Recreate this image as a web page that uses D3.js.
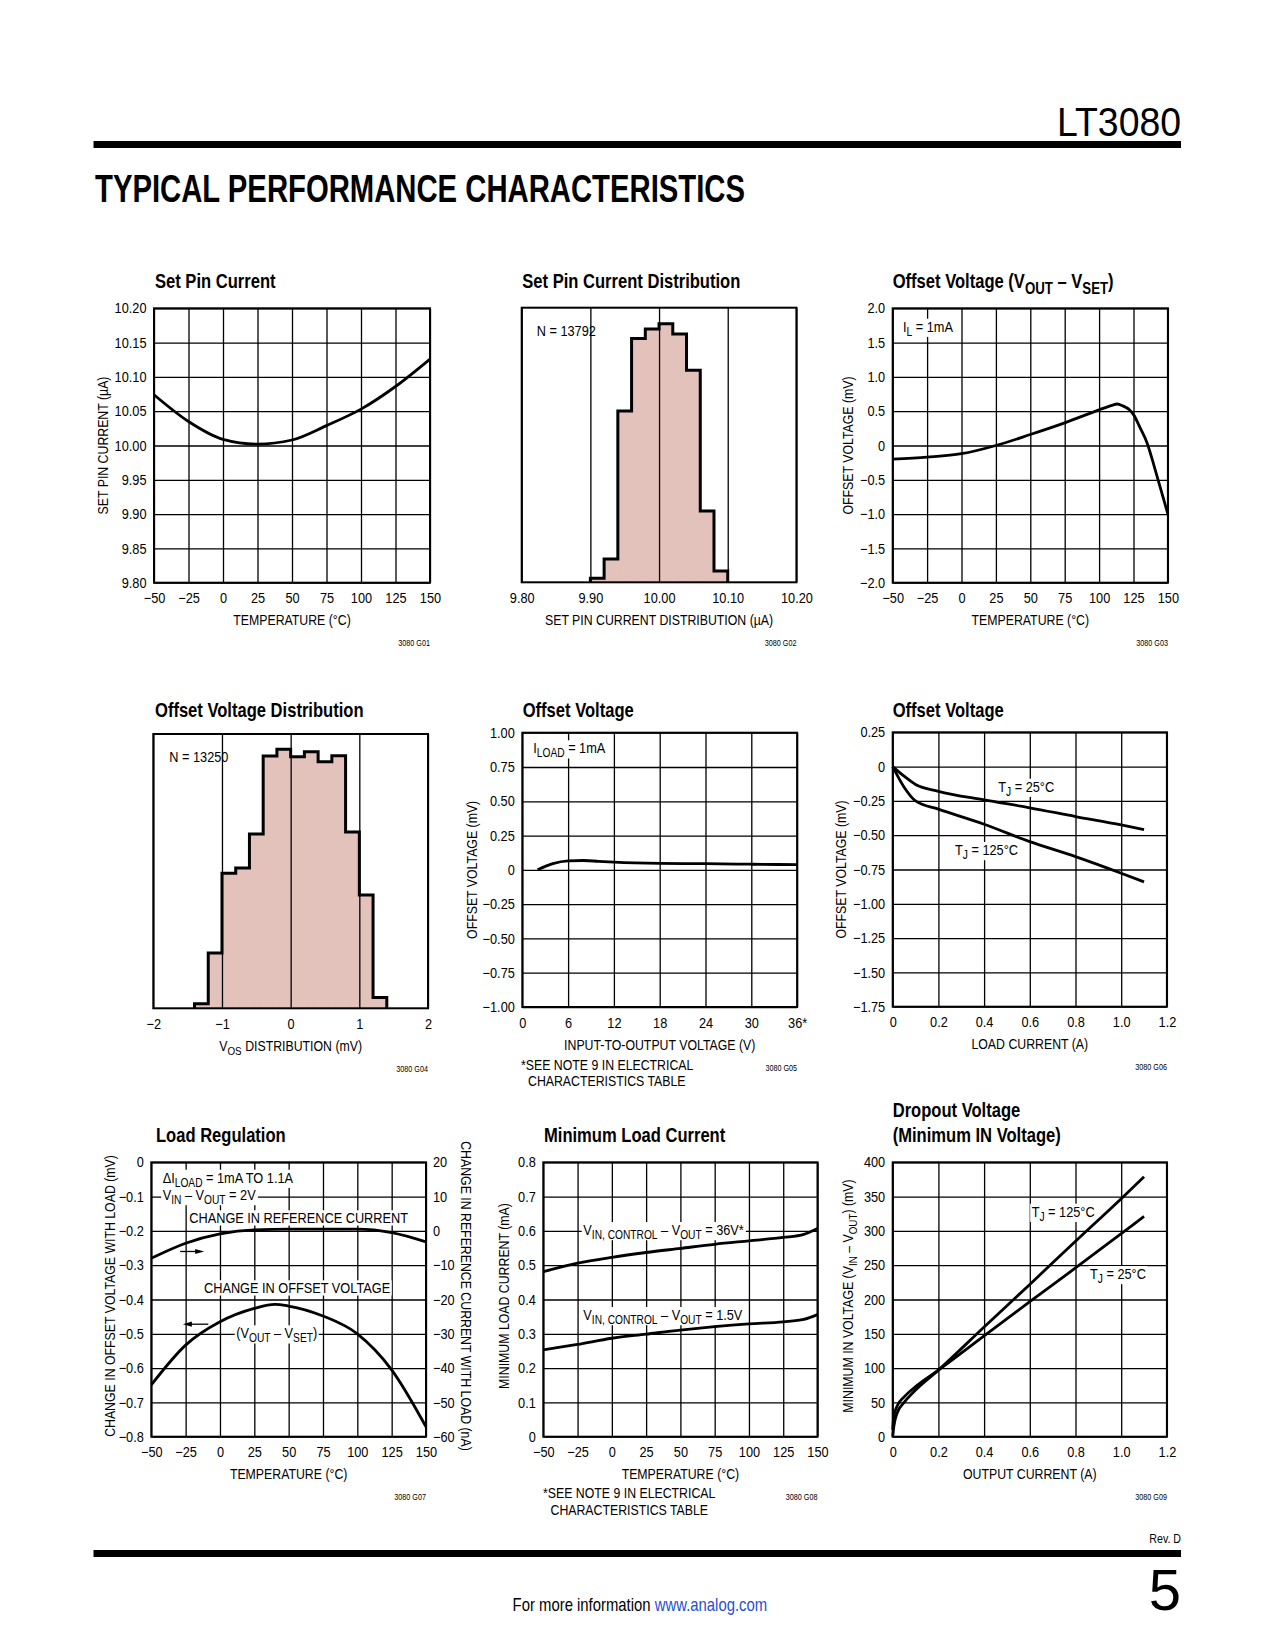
<!DOCTYPE html>
<html><head><meta charset="utf-8">
<script src="https://cdn.jsdelivr.net/npm/d3@7"></script>
<style>
html,body{margin:0;padding:0;background:#fff;}
svg{display:block;}
</style></head>
<body>
<svg id="page" width="1275" height="1650" viewBox="0 0 1275 1650"></svg>
<script>
// ================= DATA =================
const tempTicks  = [-50,-25,0,25,50,75,100,125,150];
const tempLabels = ["−50","−25","0","25","50","75","100","125","150"];

// 1. Set Pin Current
const spTemp    = [-50,-25,0,25,50,75,100,125,150];
const spCurrent = [10.074,10.035,10.009,10.002,10.008,10.029,10.053,10.086,10.126];
const spYTicks  = [9.80,9.85,9.90,9.95,10.00,10.05,10.10,10.15,10.20];
const spYLabels = ["9.80","9.85","9.90","9.95","10.00","10.05","10.10","10.15","10.20"];

// 2. Set Pin Current Distribution
const spdBinStart = [9.90,9.92,9.94,9.96,9.98,10.00,10.02,10.04,10.06,10.08];
const spdBinWidth = 0.02;
const spdCounts   = [37,215,1578,2247,2333,2382,2287,1953,657,103];
const spdXTicks   = [9.80,9.90,10.00,10.10,10.20];
const spdXLabels  = ["9.80","9.90","10.00","10.10","10.20"];

// 3. Offset Voltage (VOUT - VSET) vs temperature
const ovtTemp = [-50,-25,0,25,50,75,100,110,113,117,122,125,130,135,140,145,150];
const ovtVal  = [-0.2,-0.17,-0.12,0,0.16,0.33,0.52,0.59,0.605,0.58,0.52,0.45,0.25,0.03,-0.3,-0.65,-1.0];
const ovtYTicks  = [-2,-1.5,-1,-0.5,0,0.5,1,1.5,2];
const ovtYLabels = ["−2.0","−1.5","−1.0","−0.5","0","0.5","1.0","1.5","2.0"];

// 4. Offset Voltage Distribution
const ovdBinStart = [-1.4,-1.2,-1.0,-0.8,-0.6,-0.4,-0.2,0,0.2,0.4,0.6,0.8,1.0,1.2];
const ovdBinWidth = 0.2;
const ovdCounts   = [26,315,768,798,992,1436,1474,1432,1460,1403,1437,1003,645,61];
const ovdXTicks   = [-2,-1,0,1,2];
const ovdXLabels  = ["−2","−1","0","1","2"];

// 5. Offset Voltage vs input-to-output voltage
const oviVolt = [2,4,6,8,10,12,18,24,30,36];
const oviVal  = [0,0.045,0.065,0.068,0.062,0.056,0.047,0.045,0.041,0.038];
const oviXTicks  = [0,6,12,18,24,30,36];
const oviXLabels = ["0","6","12","18","24","30","36*"];
const oviYTicks  = [-1,-0.75,-0.5,-0.25,0,0.25,0.5,0.75,1];
const oviYLabels = ["−1.00","−0.75","−0.50","−0.25","0","0.25","0.50","0.75","1.00"];

// 6. Offset Voltage vs load current
const ovlLoad = [0,0.05,0.1,0.2,0.4,0.6,0.8,1.0,1.1];
const ovl25   = [0,-0.07,-0.13,-0.18,-0.243,-0.30,-0.364,-0.425,-0.46];
const ovl125  = [0,-0.15,-0.25,-0.31,-0.42,-0.547,-0.656,-0.777,-0.84];
const curXTicks  = [0,0.2,0.4,0.6,0.8,1.0,1.2];
const curXLabels = ["0","0.2","0.4","0.6","0.8","1.0","1.2"];
const ovlYTicks  = [-1.75,-1.5,-1.25,-1,-0.75,-0.5,-0.25,0,0.25];
const ovlYLabels = ["−1.75","−1.50","−1.25","−1.00","−0.75","−0.50","−0.25","0","0.25"];

// 7. Load Regulation
const lrTemp       = [-50,-25,0,25,40,50,75,100,125,150];
const lrOffset     = [-0.649,-0.533,-0.465,-0.426,-0.414,-0.419,-0.448,-0.50,-0.605,-0.771];
const lrRefTemp    = [-50,-25,0,25,50,75,100,125,150];
const lrRefCurrent = [-8.0,-3.6,-0.9,0.3,0.5,0.5,0.5,-0.5,-3.2];
const lrYTicks  = [-0.8,-0.7,-0.6,-0.5,-0.4,-0.3,-0.2,-0.1,0];
const lrYLabels = ["−0.8","−0.7","−0.6","−0.5","−0.4","−0.3","−0.2","−0.1","0"];
const lrRTicks  = [-60,-50,-40,-30,-20,-10,0,10,20];
const lrRLabels = ["−60","−50","−40","−30","−20","−10","0","10","20"];

// 8. Minimum Load Current
const mlTemp = [-50,-25,0,25,50,75,100,125,140,150];
const ml36   = [0.481,0.506,0.523,0.537,0.549,0.561,0.571,0.581,0.59,0.607];
const ml15   = [0.253,0.269,0.287,0.299,0.311,0.321,0.329,0.335,0.342,0.356];
const mlYTicks  = [0,0.1,0.2,0.3,0.4,0.5,0.6,0.7,0.8];
const mlYLabels = ["0","0.1","0.2","0.3","0.4","0.5","0.6","0.7","0.8"];

// 9. Dropout Voltage
const doCurrent = [0,0.005,0.02,0.05,0.1,0.2,0.4,0.6,0.8,1.0,1.1];
const do25      = [10,30,45,58,73,97,147,197,246,296,321];
const do125     = [0,15,35,50,68,97,160,222,285,347,379];
const doYTicks  = [0,50,100,150,200,250,300,350,400];
const doYLabels = ["0","50","100","150","200","250","300","350","400"];

// ================= DRAWING =================
const FONT = '"Liberation Sans", Arial, Helvetica, sans-serif';
const S = 0.85;    // horizontal condensing of titles / notes
const TS = 0.88;   // horizontal condensing of tick labels
const svg = d3.select('#page');
svg.append('rect').attr('width',1275).attr('height',1650).attr('fill','#fff');

function rich(t, str, size) {
  const off = size * 0.27;
  const parts = str.split(/(_\{[^}]*\})/);
  let shifted = false;
  parts.forEach(p => {
    if (!p) return;
    const m = p.match(/^_\{([^}]*)\}$/);
    if (m) {
      t.append('tspan').attr('dy', shifted ? 0 : off).attr('font-size', (size*0.8)+'px').text(m[1]);
      shifted = true;
    } else {
      const s = t.append('tspan').text(p);
      if (shifted) { s.attr('dy', -off); shifted = false; }
    }
  });
}

function txt(g, x, y, str, o = {}) {
  const size = o.size || 14.5;
  const sx = o.sx || S;
  const gg = g.append('g').attr('transform',
    `translate(${x},${y})` + (o.rot ? ` rotate(${o.rot})` : '') + ` scale(${sx},1)`);
  const t = gg.append('text')
    .attr('x', 0).attr('y', 0)
    .attr('font-family', FONT)
    .attr('font-size', size + 'px')
    .attr('font-weight', o.bold ? 'bold' : 'normal')
    .attr('text-anchor', o.anchor || 'start')
    .attr('fill', o.fill || '#000');
  rich(t, str, size);
  if (o.bg) {
    const b = t.node().getBBox();
    const p = 1.8;
    gg.insert('rect', () => t.node())
      .attr('x', b.x - p).attr('y', b.y + 1).attr('width', b.width + 2*p).attr('height', b.height - 2)
      .attr('fill', '#fff');
  }
  return t;
}

function styleAxis(ga) {
  ga.attr('font-family', FONT).attr('font-size', '14.5px');
  ga.select('.domain').remove();
  ga.selectAll('line').attr('stroke', '#000').attr('stroke-width', 1.3);
  ga.selectAll('text').attr('fill', '#000')
    .attr('transform', `scale(${TS},1)`)
    .each(function () {
      const xv = this.getAttribute('x');
      if (xv !== null) this.setAttribute('x', (+xv) / TS);
    });
}

function drawChart(c) {
  const [x0, y0, w, h] = c.box;
  const g = svg.append('g');
  const x = d3.scaleLinear().domain(c.xDom).range([x0, x0 + w]);
  const y = d3.scaleLinear().domain(c.yDom).range([y0 + h, y0]);
  const yR = c.yRDom ? d3.scaleLinear().domain(c.yRDom).range([y0 + h, y0]) : null;

  if (c.hist) {
    const H = c.hist;
    g.selectAll('rect.bar').data(H.counts).join('rect')
      .attr('x', (d, i) => x(H.start[i]))
      .attr('width', (d, i) => x(H.start[i] + H.width) - x(H.start[i]))
      .attr('y', d => y(d))
      .attr('height', d => y(0) - y(d))
      .attr('fill', '#e4c2bc').attr('stroke', '#e4c2bc').attr('stroke-width', 0.8);
  }

  const xa = d3.axisBottom(x).tickValues(c.xT).tickFormat((d, i) => c.xL[i])
    .tickSize(-h).tickPadding(10.5);
  const gx = g.append('g').attr('transform', `translate(0,${y0 + h})`).call(xa);
  styleAxis(gx);

  if (c.yT) {
    const ya = d3.axisLeft(y).tickValues(c.yT).tickFormat((d, i) => c.yL[i])
      .tickSize(-w).tickPadding(7.5);
    const gy = g.append('g').attr('transform', `translate(${x0},0)`).call(ya);
    styleAxis(gy);
  }
  if (yR) {
    const ra = d3.axisRight(yR).tickValues(c.yRT).tickFormat((d, i) => c.yRL[i])
      .tickSize(0).tickPadding(7);
    const gr = g.append('g').attr('transform', `translate(${x0 + w},0)`).call(ra);
    styleAxis(gr);
  }

  (c.notes || []).forEach(n => txt(g, n.x, n.y, n.text, { bg: n.bg !== false, anchor: n.anchor, size: 15 }));

  (c.arrows || []).forEach(a => {
    const sx = x(a.from[0]), sy = y(a.from[1]), ex = x(a.to[0]), ey = y(a.to[1]);
    const dir = Math.sign(ex - sx);
    g.append('line').attr('x1', sx).attr('y1', sy).attr('x2', ex - dir * 6).attr('y2', ey)
      .attr('stroke', '#000').attr('stroke-width', 1.3);
    g.append('path')
      .attr('d', `M${ex},${ey} L${ex - dir * 9},${ey - 2.6} L${ex - dir * 9},${ey + 2.6} Z`)
      .attr('fill', '#000');
  });

  (c.series || []).forEach(s => {
    const sc = s.right ? yR : y;
    const pts = s.x.map((v, i) => [v, s.y[i]]);
    g.append('path')
      .attr('d', d3.line().x(d => x(d[0])).y(d => sc(d[1])).curve(d3.curveMonotoneX)(pts))
      .attr('fill', 'none').attr('stroke', '#000').attr('stroke-width', 2.8)
      .attr('stroke-linejoin', 'round');
  });

  if (c.hist) {
    const H = c.hist;
    const pts = [[H.start[0], 0]];
    H.counts.forEach((v, i) => { pts.push([H.start[i], v]); pts.push([H.start[i] + H.width, v]); });
    pts.push([H.start[H.start.length - 1] + H.width, 0]);
    g.append('path')
      .attr('d', d3.line().x(d => x(d[0])).y(d => y(d[1]))(pts))
      .attr('fill', 'none').attr('stroke', '#000').attr('stroke-width', 3)
      .attr('stroke-linejoin', 'miter');
  }

  g.append('rect').attr('x', x0).attr('y', y0).attr('width', w).attr('height', h)
    .attr('fill', 'none').attr('stroke', '#000').attr('stroke-width', 2);

  c.title.forEach(t => txt(g, t[0], t[1], t[2], { bold: true, size: 19.5 }));
  txt(g, x0 + w / 2, y0 + h + 42.5, c.xTitle, { anchor: 'middle' });
  if (c.yTitle) {
    txt(g, x0 - c.yTitleOff, c.yTitleCy || (y0 + h / 2), c.yTitle, { anchor: 'middle', rot: -90 });
  }
  if (c.yRTitle) {
    txt(g, x0 + w + c.yRTitleOff, c.yRTitleCy || (y0 + h / 2), c.yRTitle, { anchor: 'middle', rot: 90 });
  }
  (c.footNotes || []).forEach(n => txt(g, n.x, n.y, n.text));
  txt(g, x0 + w, y0 + h + 63.5, c.code, { anchor: 'end', size: 8.5 });
}

const charts = [
  { box: [154, 308.3, 276, 274.4], xDom: [-50, 150], yDom: [9.80, 10.20],
    xT: tempTicks, xL: tempLabels, yT: spYTicks, yL: spYLabels,
    title: [[155, 288.3, 'Set Pin Current']],
    xTitle: 'TEMPERATURE (°C)', yTitle: 'SET PIN CURRENT (µA)', yTitleOff: 45.7, code: '3080 G01',
    series: [{ x: spTemp, y: spCurrent }] },
  { box: [521.7, 307.7, 274.7, 274.6], xDom: [9.80, 10.20], yDom: [0, 2530],
    xT: spdXTicks, xL: spdXLabels,
    title: [[522.3, 288.3, 'Set Pin Current Distribution']],
    xTitle: 'SET PIN CURRENT DISTRIBUTION (µA)', code: '3080 G02',
    hist: { start: spdBinStart, width: spdBinWidth, counts: spdCounts },
    notes: [{ x: 536.7, y: 336, text: 'N = 13792', bg: false }] },
  { box: [892.7, 308.3, 275.2, 274.4], xDom: [-50, 150], yDom: [-2, 2],
    xT: tempTicks, xL: tempLabels, yT: ovtYTicks, yL: ovtYLabels,
    title: [[892.7, 288.3, 'Offset Voltage (V_{OUT} – V_{SET})']],
    xTitle: 'TEMPERATURE (°C)', yTitle: 'OFFSET VOLTAGE (mV)', yTitleOff: 39.4, code: '3080 G03',
    notes: [{ x: 903, y: 331.7, text: 'I_{L} = 1mA' }],
    series: [{ x: ovtTemp, y: ovtVal }] },
  { box: [153.3, 734, 274.7, 274.3], xDom: [-2, 2], yDom: [0, 1561],
    xT: ovdXTicks, xL: ovdXLabels,
    title: [[155, 717.3, 'Offset Voltage Distribution']],
    xTitle: 'V_{OS} DISTRIBUTION (mV)', code: '3080 G04',
    hist: { start: ovdBinStart, width: ovdBinWidth, counts: ovdCounts },
    notes: [{ x: 169.3, y: 761.7, text: 'N = 13250', bg: false }] },
  { box: [522.3, 732.7, 274.8, 274.3], xDom: [0, 36], yDom: [-1, 1],
    xT: oviXTicks, xL: oviXLabels, yT: oviYTicks, yL: oviYLabels,
    title: [[522.7, 717.3, 'Offset Voltage']],
    xTitle: 'INPUT-TO-OUTPUT VOLTAGE (V)', yTitle: 'OFFSET VOLTAGE (mV)', yTitleOff: 45.8, code: '3080 G05',
    notes: [{ x: 533.3, y: 753.3, text: 'I_{LOAD} = 1mA' }],
    footNotes: [{ x: 521, y: 1069.5, text: '*SEE NOTE 9 IN ELECTRICAL' }, { x: 528, y: 1086, text: 'CHARACTERISTICS TABLE' }],
    series: [{ x: oviVolt, y: oviVal }] },
  { box: [892.7, 732.3, 274.2, 274.4], xDom: [0, 1.2], yDom: [-1.75, 0.25],
    xT: curXTicks, xL: curXLabels, yT: ovlYTicks, yL: ovlYLabels,
    title: [[892.7, 717.3, 'Offset Voltage']],
    xTitle: 'LOAD CURRENT (A)', yTitle: 'OFFSET VOLTAGE (mV)', yTitleOff: 46.7, code: '3080 G06',
    notes: [{ x: 998.3, y: 791.7, text: 'T_{J} = 25°C' }, { x: 955, y: 855, text: 'T_{J} = 125°C' }],
    series: [{ x: ovlLoad, y: ovl25 }, { x: ovlLoad, y: ovl125 }] },
  { box: [151.3, 1162.3, 274.7, 274.4], xDom: [-50, 150], yDom: [-0.8, 0], yRDom: [-60, 20],
    xT: tempTicks, xL: tempLabels, yT: lrYTicks, yL: lrYLabels, yRT: lrRTicks, yRL: lrRLabels,
    title: [[156, 1141.7, 'Load Regulation']],
    xTitle: 'TEMPERATURE (°C)', yTitle: 'CHANGE IN OFFSET VOLTAGE WITH LOAD (mV)', yTitleOff: 36.8, yTitleCy: 1296,
    yRTitle: 'CHANGE IN REFERENCE CURRENT WITH LOAD (nA)', yRTitleOff: 35, yRTitleCy: 1296, code: '3080 G07',
    notes: [
      { x: 162.7, y: 1182.7, text: 'ΔI_{LOAD} = 1mA TO 1.1A' },
      { x: 162.7, y: 1200, text: 'V_{IN} – V_{OUT} = 2V' },
      { x: 189.3, y: 1223.3, text: 'CHANGE IN REFERENCE CURRENT' },
      { x: 204, y: 1293.3, text: 'CHANGE IN OFFSET VOLTAGE' },
      { x: 276.7, y: 1338.3, text: '(V_{OUT} – V_{SET})', anchor: 'middle' }],
    arrows: [{ from: [-29, -0.26], to: [-11.5, -0.26] }, { from: [-8.5, -0.472], to: [-27, -0.472] }],
    series: [{ x: lrRefTemp, y: lrRefCurrent, right: true }, { x: lrTemp, y: lrOffset }] },
  { box: [543.3, 1162.3, 274.2, 274.4], xDom: [-50, 150], yDom: [0, 0.8],
    xT: tempTicks, xL: tempLabels, yT: mlYTicks, yL: mlYLabels,
    title: [[544, 1141.7, 'Minimum Load Current']],
    xTitle: 'TEMPERATURE (°C)', yTitle: 'MINIMUM LOAD CURRENT (mA)', yTitleOff: 34.3, yTitleCy: 1296, code: '3080 G08',
    notes: [{ x: 583.3, y: 1235, text: 'V_{IN, CONTROL} – V_{OUT} = 36V*' },
            { x: 583.3, y: 1320, text: 'V_{IN, CONTROL} – V_{OUT} = 1.5V' }],
    footNotes: [{ x: 543, y: 1498, text: '*SEE NOTE 9 IN ELECTRICAL' }, { x: 550.5, y: 1514.6, text: 'CHARACTERISTICS TABLE' }],
    series: [{ x: mlTemp, y: ml36 }, { x: mlTemp, y: ml15 }] },
  { box: [892.7, 1162.3, 274.2, 274.4], xDom: [0, 1.2], yDom: [0, 400],
    xT: curXTicks, xL: curXLabels, yT: doYTicks, yL: doYLabels,
    title: [[892.7, 1117.3, 'Dropout Voltage'], [892.7, 1141.7, '(Minimum IN Voltage)']],
    xTitle: 'OUTPUT CURRENT (A)', yTitle: 'MINIMUM IN VOLTAGE (V_{IN} – V_{OUT}) (mV)', yTitleOff: 39.4, yTitleCy: 1296, code: '3080 G09',
    notes: [{ x: 1031.7, y: 1216.7, text: 'T_{J} = 125°C' }, { x: 1090, y: 1279, text: 'T_{J} = 25°C' }],
    series: [{ x: doCurrent, y: do125 }, { x: doCurrent, y: do25 }] }
];

charts.forEach(drawChart);

// ================= PAGE FURNITURE =================
const page = svg.append('g');
page.append('text').attr('x', 1057).attr('y', 136).attr('font-family', FONT).attr('font-size', '41px')
  .attr('textLength', 124).attr('lengthAdjust', 'spacingAndGlyphs').attr('fill', '#000').text('LT3080');
page.append('rect').attr('x', 93.5).attr('y', 141).attr('width', 1087.5).attr('height', 7).attr('fill', '#000');
page.append('text').attr('x', 95).attr('y', 202).attr('font-family', FONT).attr('font-weight', 'bold')
  .attr('font-size', '38px').attr('textLength', 650).attr('lengthAdjust', 'spacingAndGlyphs')
  .attr('fill', '#000').text('TYPICAL PERFORMANCE CHARACTERISTICS');

txt(page, 1181, 1543, 'Rev. D', { anchor: 'end', size: 12.5 });
page.append('rect').attr('x', 93.5).attr('y', 1550).attr('width', 1087.5).attr('height', 7).attr('fill', '#000');
page.append('text').attr('x', 1181).attr('y', 1610).attr('text-anchor', 'end').attr('font-family', FONT)
  .attr('font-size', '58px').attr('fill', '#000').text('5');
const fg = page.append('g').attr('transform', `translate(512.6,1611) scale(${S},1)`);
const foot = fg.append('text').attr('x', 0).attr('y', 0).attr('font-family', FONT)
  .attr('font-size', '17.5px').attr('fill', '#000');
foot.append('tspan').text('For more information ');
foot.append('tspan').attr('fill', '#1f4fd6').text('www.analog.com');
</script>
</body></html>
